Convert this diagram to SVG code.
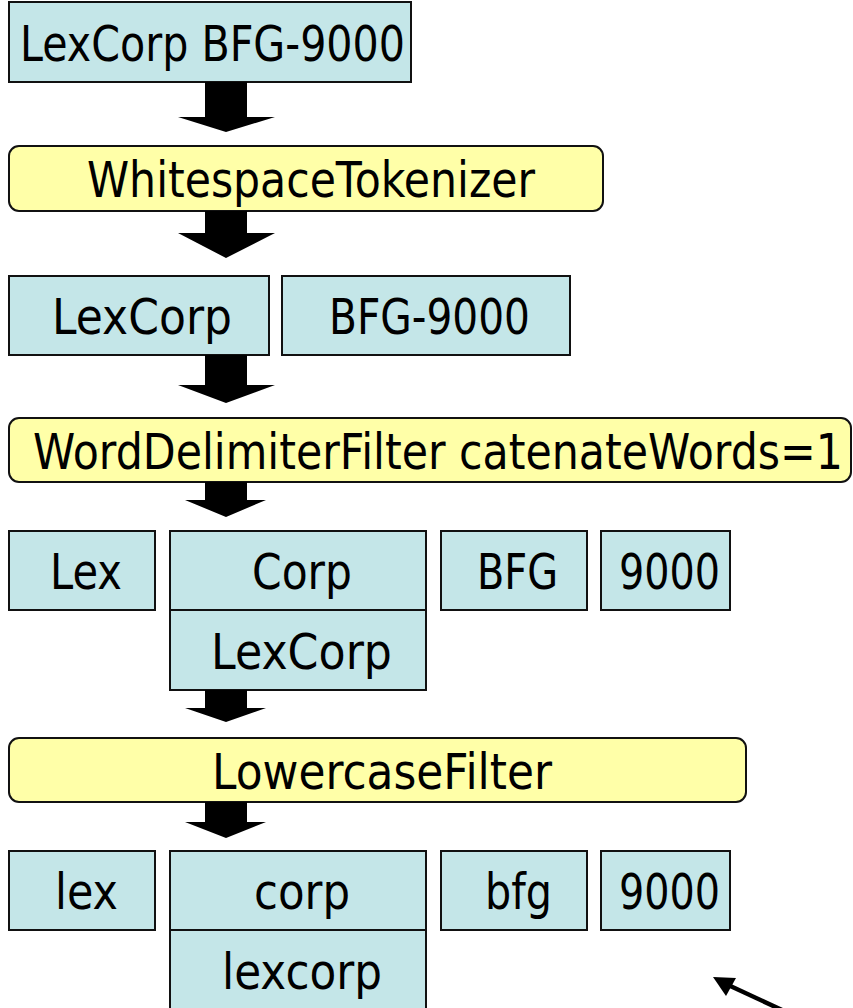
<svg xmlns="http://www.w3.org/2000/svg" width="853" height="1008" viewBox="0 0 853 1008">
<style>
.tok{fill:#c4e6e8;stroke:#111;stroke-width:2}
.flt{fill:#ffffa8;stroke:#111;stroke-width:2}
text{font-family:"DejaVu Sans","Liberation Sans",sans-serif;font-size:50px;fill:#000}
.ar{fill:#000}
</style>
<g id="input"><rect class="tok" x="9" y="2" width="402" height="80"/><text x="20" y="61" textLength="385" lengthAdjust="spacingAndGlyphs">LexCorp BFG-9000</text></g>
<g id="whitespace"><rect class="flt" x="9" y="146" width="594" height="65" rx="10"/><text x="87" y="197" textLength="448" lengthAdjust="spacingAndGlyphs">WhitespaceTokenizer</text></g>
<g id="t1-lexcorp"><rect class="tok" x="9" y="276" width="260" height="79"/><text x="52" y="334" textLength="180" lengthAdjust="spacingAndGlyphs">LexCorp</text></g>
<g id="t1-bfg"><rect class="tok" x="282" y="276" width="288" height="79"/><text x="329" y="334" textLength="201" lengthAdjust="spacingAndGlyphs">BFG-9000</text></g>
<g id="worddelim"><rect class="flt" x="9" y="418" width="842" height="64" rx="10"/><text x="33" y="469" textLength="810" lengthAdjust="spacingAndGlyphs">WordDelimiterFilter catenateWords=1</text></g>
<g id="t2-lex"><rect class="tok" x="9" y="531" width="146" height="79"/><text x="50" y="589" textLength="72" lengthAdjust="spacingAndGlyphs">Lex</text></g>
<g id="t2-corp"><rect class="tok" x="170" y="531" width="256" height="79"/><text x="252" y="589" textLength="100" lengthAdjust="spacingAndGlyphs">Corp</text></g>
<g id="t2-lexcorp"><rect class="tok" x="170" y="610" width="256" height="80"/><text x="211" y="669" textLength="181" lengthAdjust="spacingAndGlyphs">LexCorp</text></g>
<g id="t2-bfg"><rect class="tok" x="441" y="531" width="146" height="79"/><text x="477" y="589" textLength="81" lengthAdjust="spacingAndGlyphs">BFG</text></g>
<g id="t2-9000"><rect class="tok" x="601" y="531" width="129" height="79"/><text x="619" y="589" textLength="101" lengthAdjust="spacingAndGlyphs">9000</text></g>
<g id="lowercase"><rect class="flt" x="9" y="738" width="737" height="64" rx="10"/><text x="212" y="789" textLength="340" lengthAdjust="spacingAndGlyphs">LowercaseFilter</text></g>
<g id="t3-lex"><rect class="tok" x="9" y="851" width="146" height="79"/><text x="55" y="909" textLength="63" lengthAdjust="spacingAndGlyphs">lex</text></g>
<g id="t3-corp"><rect class="tok" x="170" y="851" width="256" height="79"/><text x="254" y="909" textLength="96" lengthAdjust="spacingAndGlyphs">corp</text></g>
<g id="t3-lexcorp"><rect class="tok" x="170" y="930" width="256" height="90"/><text x="222" y="989" textLength="160" lengthAdjust="spacingAndGlyphs">lexcorp</text></g>
<g id="t3-bfg"><rect class="tok" x="441" y="851" width="146" height="79"/><text x="485" y="909" textLength="67" lengthAdjust="spacingAndGlyphs">bfg</text></g>
<g id="t3-9000"><rect class="tok" x="601" y="851" width="129" height="79"/><text x="619" y="909" textLength="101" lengthAdjust="spacingAndGlyphs">9000</text></g>
<g id="connectors">
<polygon class="ar" points="205,82 247,82 247,117 275,117 226,132 178,117 205,117"/>
<polygon class="ar" points="205,211 247,211 247,233 275,233 226,258 178,233 205,233"/>
<polygon class="ar" points="205,355 247,355 247,385 275,385 226,403 178,385 205,385"/>
<polygon class="ar" points="205,482 247,482 247,500 266,500 226,517 185,500 205,500"/>
<polygon class="ar" points="205,690 247,690 247,708 266,708 226,722 185,708 205,708"/>
<polygon class="ar" points="205,802 247,802 247,822 266,822 226,838 185,822 205,822"/>
<line x1="782" y1="1010" x2="726" y2="984" stroke="#000" stroke-width="4.5"/>
<polygon class="ar" points="713,977 736,978 726,996"/>
</g>
</svg>
